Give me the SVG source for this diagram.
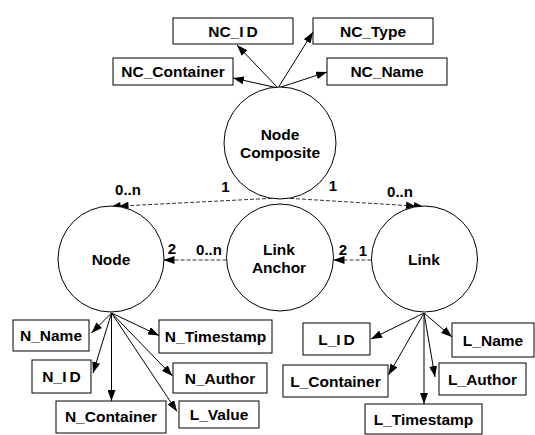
<svg xmlns="http://www.w3.org/2000/svg" width="535" height="435" viewBox="0 0 535 435">
  <style>
    .box { fill: #fff; stroke: #000; stroke-width: 1; }
    .ent { fill: #fff; stroke: #000; stroke-width: 1; }
    .t { font-family: "Liberation Sans", Arial, sans-serif; font-weight: bold; font-size: 15.5px; fill: #000; text-anchor: middle; }
    .lbl { font-family: "Liberation Sans", Arial, sans-serif; font-weight: bold; font-size: 15px; fill: #000; text-anchor: middle; }
    .attr { fill: none; stroke: #000; stroke-width: 1; marker-end: url(#arr); }
    .rel { fill: none; stroke: #333; stroke-width: 1; stroke-dasharray: 4 2; }
  </style>
  <defs>
    <marker id="arr" viewBox="0 0 11 8" refX="11" refY="4" markerWidth="11" markerHeight="8" markerUnits="userSpaceOnUse" orient="auto">
      <path d="M0,0 L11,4 L0,8 z" fill="#000"/>
    </marker>
    <marker id="arr2" viewBox="0 0 18 8" refX="18" refY="4" markerWidth="18" markerHeight="8" markerUnits="userSpaceOnUse" orient="auto">
      <path d="M1,0 L10,4 L1,8 z M9,0 L18,4 L9,8 z" fill="#000"/>
    </marker>
  </defs>

  <!-- connectors -->
  <g id="connectors">
    <!-- Node Composite attributes -->
    <line class="attr" x1="278" y1="88" x2="237" y2="45"/>
    <line class="attr" x1="278" y1="88" x2="233" y2="78"/>
    <line class="attr" x1="278" y1="88" x2="313" y2="32"/>
    <line class="attr" x1="278" y1="88" x2="327" y2="72"/>
    <!-- Node attributes -->
    <line class="attr" x1="111.5" y1="313" x2="91.5" y2="333"/>
    <line class="attr" x1="111.5" y1="313" x2="93" y2="373"/>
    <line class="attr" x1="111.5" y1="313" x2="111.5" y2="401"/>
    <line class="attr" x1="111.5" y1="313" x2="159" y2="335.5"/>
    <line class="attr" x1="111.5" y1="313" x2="172.5" y2="376"/>
    <line class="attr" x1="111.5" y1="313" x2="177" y2="411.5"/>
    <!-- Link attributes -->
    <line class="attr" x1="424" y1="313" x2="371" y2="339"/>
    <line class="attr" x1="424" y1="313" x2="388.5" y2="375"/>
    <line class="attr" x1="424" y1="313" x2="424" y2="404"/>
    <line class="attr" x1="424" y1="313" x2="435" y2="377"/>
    <line class="attr" x1="424" y1="313" x2="452" y2="337"/>
    <!-- relationships -->
    <line class="rel" x1="278" y1="198" x2="111.5" y2="206.5" marker-end="url(#arr2)"/>
    <line class="rel" x1="284" y1="198" x2="423" y2="206.5" marker-end="url(#arr2)"/>
    <line class="rel" x1="226.5" y1="260" x2="163.5" y2="260" marker-end="url(#arr)"/>
    <line class="rel" x1="371.5" y1="260" x2="333.5" y2="260" marker-end="url(#arr)"/>
  </g>

  <!-- multiplicities -->
  <g id="labels">
    <text class="lbl" x="128" y="195">0..n</text>
    <text class="lbl" x="225.5" y="191.5">1</text>
    <text class="lbl" x="333" y="190.5">1</text>
    <text class="lbl" x="400" y="197">0..n</text>
    <text class="lbl" x="172" y="253.5">2</text>
    <text class="lbl" x="209" y="255">0..n</text>
    <text class="lbl" x="343" y="255">2</text>
    <text class="lbl" x="363" y="256">1</text>
  </g>

  <!-- entities -->
  <g id="node-composite">
    <circle class="ent" cx="280" cy="143" r="56"/>
    <text class="t" x="280" y="140">Node</text>
    <text class="t" x="280" y="157.5">Composite</text>
  </g>
  <g id="node">
    <circle class="ent" cx="111" cy="259" r="53"/>
    <text class="t" x="111" y="265">Node</text>
  </g>
  <g id="link-anchor">
    <circle class="ent" cx="280" cy="257.5" r="53.5"/>
    <text class="t" x="279" y="255">Link</text>
    <text class="t" x="279" y="272.5">Anchor</text>
  </g>
  <g id="link">
    <circle class="ent" cx="424.5" cy="259" r="53"/>
    <text class="t" x="424" y="265">Link</text>
  </g>

  <!-- Node Composite attributes -->
  <g id="nc-id">
    <rect class="box" x="173" y="18" width="120" height="26"/>
    <text class="t" x="233" y="36.5">NC_I<tspan dx="3">D</tspan></text>
  </g>
  <g id="nc-type">
    <rect class="box" x="313" y="18" width="120" height="26"/>
    <text class="t" x="373" y="36.5">NC_Type</text>
  </g>
  <g id="nc-container">
    <rect class="box" x="113" y="58" width="120" height="27"/>
    <text class="t" x="173" y="77">NC_Container</text>
  </g>
  <g id="nc-name">
    <rect class="box" x="327" y="58" width="120" height="27"/>
    <text class="t" x="387" y="77">NC_Name</text>
  </g>

  <!-- Node attributes -->
  <g id="n-name">
    <rect class="box" x="13" y="320" width="76" height="31"/>
    <text class="t" x="51" y="341">N_Name</text>
  </g>
  <g id="n-id">
    <rect class="box" x="32" y="360" width="59" height="33"/>
    <text class="t" x="61.5" y="382">N_I<tspan dx="3">D</tspan></text>
  </g>
  <g id="n-container">
    <rect class="box" x="56" y="401" width="110" height="32"/>
    <text class="t" x="111" y="422">N_Container</text>
  </g>
  <g id="n-timestamp">
    <rect class="box" x="159" y="320" width="113" height="33"/>
    <text class="t" x="215.5" y="342">N_Timestamp</text>
  </g>
  <g id="n-author">
    <rect class="box" x="173" y="363" width="94" height="30"/>
    <text class="t" x="220" y="383.5">N_Author</text>
  </g>
  <g id="l-value">
    <rect class="box" x="179" y="401" width="80" height="27"/>
    <text class="t" x="219" y="420">L_Value</text>
  </g>

  <!-- Link attributes -->
  <g id="l-id">
    <rect class="box" x="303" y="323" width="67" height="32"/>
    <text class="t" x="336.5" y="344.5">L_I<tspan dx="3">D</tspan></text>
  </g>
  <g id="l-name">
    <rect class="box" x="452" y="323" width="82" height="34"/>
    <text class="t" x="493" y="345.5">L_Name</text>
  </g>
  <g id="l-container">
    <rect class="box" x="283" y="365" width="105" height="32"/>
    <text class="t" x="335.5" y="386.5">L_Container</text>
  </g>
  <g id="l-author">
    <rect class="box" x="439" y="363" width="87" height="32"/>
    <text class="t" x="482.5" y="384.5">L_Author</text>
  </g>
  <g id="l-timestamp">
    <rect class="box" x="365" y="404" width="117" height="30"/>
    <text class="t" x="423.5" y="425">L_Timestamp</text>
  </g>
</svg>
